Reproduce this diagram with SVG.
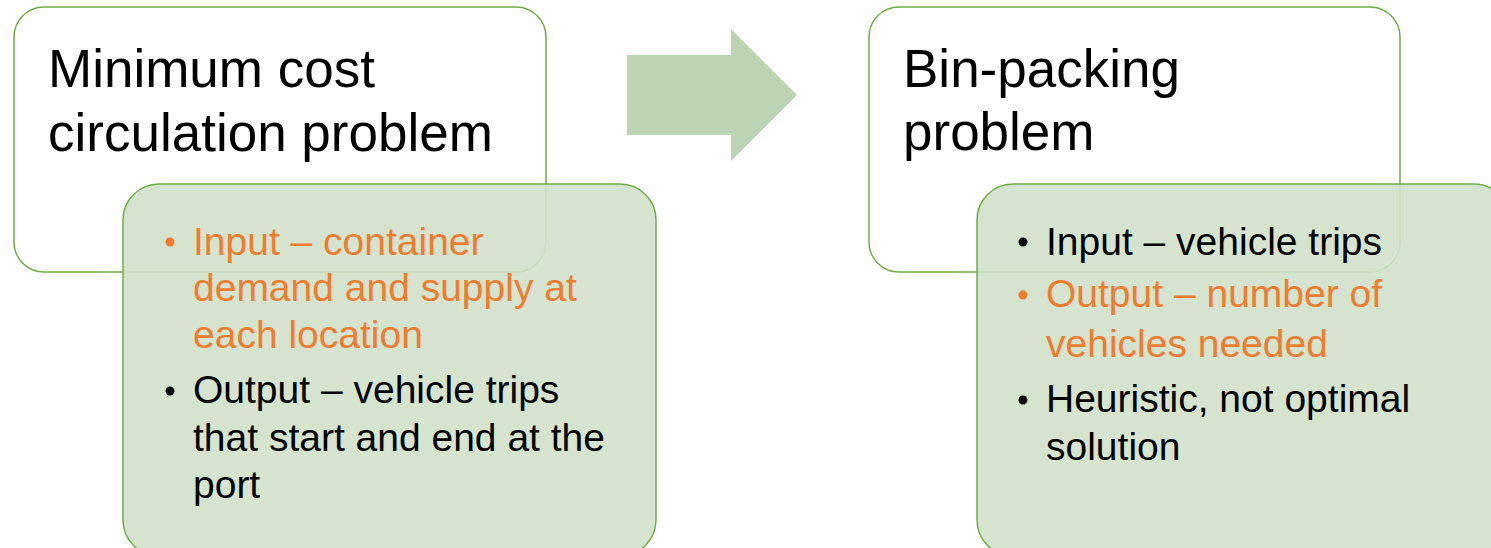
<svg xmlns="http://www.w3.org/2000/svg" width="1491" height="548" viewBox="0 0 1491 548">
<style>
.box{fill:#ffffff;stroke:#70AD47;stroke-width:1.5}
.sub{fill:rgb(208,224,202);fill-opacity:0.9;stroke:#70AD47;stroke-width:1.5}
.title{font-family:"Liberation Sans",Arial,sans-serif;font-size:53px;fill:#000}
.txt{font-family:"Liberation Sans",Arial,sans-serif;font-size:39px;fill:#000}
.or{fill:#ED7D31}
.dot{fill:#000}
.dot.or{fill:#ED7D31}
</style>
<rect width="1491" height="548" fill="#ffffff"/>
<g id="node-left">
<rect class="box" x="14" y="7" width="532" height="265" rx="30"/>
<text class="title" x="48" y="87">Minimum cost</text>
<text class="title" x="48" y="151">circulation problem</text>
</g>
<g id="node-left-detail">
<rect class="sub" x="123" y="184" width="533" height="372" rx="36"/>
<circle class="dot or" cx="170" cy="242" r="4.5"/>
<text class="txt or" x="193" y="255">Input – container</text>
<text class="txt or" x="193" y="301">demand and supply at</text>
<text class="txt or" x="193" y="348">each location</text>
<circle class="dot" cx="170" cy="391" r="4.5"/>
<text class="txt" x="193" y="403">Output – vehicle trips</text>
<text class="txt" x="193" y="451">that start and end at the</text>
<text class="txt" x="193" y="498">port</text>
</g>
<g id="connectors">
<polygon points="627,55 731,55 731,29 797,95 731,161 731,135 627,135" fill="#BCD4B4"/>
</g>
<g id="node-right">
<rect class="box" x="869" y="7" width="531" height="265" rx="30"/>
<text class="title" x="903" y="87">Bin-packing</text>
<text class="title" x="903" y="150">problem</text>
</g>
<g id="node-right-detail">
<rect class="sub" x="977" y="184" width="533" height="372" rx="36"/>
<circle class="dot" cx="1023" cy="242" r="4.5"/>
<text class="txt" x="1046" y="255">Input – vehicle trips</text>
<circle class="dot or" cx="1023" cy="295" r="4.5"/>
<text class="txt or" x="1046" y="307">Output – number of</text>
<text class="txt or" x="1046" y="357">vehicles needed</text>
<circle class="dot" cx="1023" cy="400" r="4.5"/>
<text class="txt" x="1046" y="412">Heuristic, not optimal</text>
<text class="txt" x="1046" y="460">solution</text>
</g>
</svg>
